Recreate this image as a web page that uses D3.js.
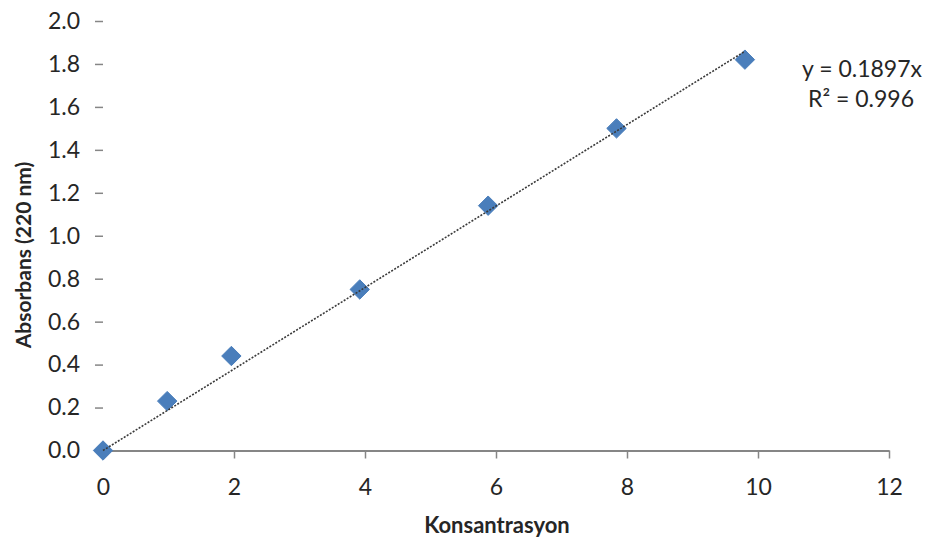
<!DOCTYPE html>
<html>
<head>
<meta charset="utf-8">
<script src="https://cdn.jsdelivr.net/npm/d3@7"></script>
<style>
  html, body { margin: 0; padding: 0; background: #ffffff; }
  svg { display: block; }
  text { font-family: Lato, "Liberation Sans", sans-serif; fill: #262626; }
</style>
</head>
<body>
<svg id="chart" width="930" height="543"></svg>
<script>
// Calibration data: concentration vs absorbance at 220 nm
const concentration = [0, 0.98, 1.96, 3.92, 5.88, 7.84, 9.8];
const absorbance    = [0, 0.23, 0.44, 0.75, 1.14, 1.50, 1.82];

// Linear fit through the origin, as reported on the chart
const slope = 0.1897;
const rSquared = 0.996;

const xTicks = [0, 2, 4, 6, 8, 10, 12];
const yTicks = [0, 0.2, 0.4, 0.6, 0.8, 1.0, 1.2, 1.4, 1.6, 1.8, 2.0];

const xTitle = "Konsantrasyon";
const yTitle = "Absorbans (220 nm)";

const svg = d3.select("#chart");

const x = d3.scaleLinear().domain([0, 12]).range([103, 889]);
const y = d3.scaleLinear().domain([0, 2]).range([450.5, 21]);

const axisColor = "#868686";
const fontSize = 23;

// Vertical axis: tick marks and labels only, no axis line
const yAxis = svg.append("g")
  .attr("transform", `translate(${x(0)},0)`)
  .call(d3.axisLeft(y).tickValues(yTicks).tickSize(8).tickPadding(15)
    .tickFormat(d3.format(".1f")));
yAxis.select(".domain").remove();
yAxis.selectAll(".tick line").attr("stroke", axisColor).attr("stroke-width", 1.5);
yAxis.selectAll(".tick text")
  .style("font-family", "Lato, 'Liberation Sans', sans-serif")
  .style("font-size", fontSize + "px")
  .attr("fill", "#262626");

// Horizontal axis
const xAxis = svg.append("g")
  .attr("transform", `translate(0,${y(0)})`)
  .call(d3.axisBottom(x).tickValues(xTicks).tickSize(8).tickPadding(20)
    .tickSizeOuter(0).tickFormat(d3.format("d")));
xAxis.select(".domain").attr("stroke", axisColor).attr("stroke-width", 2);
xAxis.selectAll(".tick line").attr("stroke", axisColor).attr("stroke-width", 1.5);
xAxis.selectAll(".tick text")
  .style("font-family", "Lato, 'Liberation Sans', sans-serif")
  .style("font-size", fontSize + "px")
  .attr("fill", "#262626");

// Data markers (diamonds)
const points = concentration.map((c, i) => ({ c, a: absorbance[i] }));
const diamond = d3.symbol().type(d3.symbolDiamond2).size(240);
svg.append("g")
  .selectAll("path")
  .data(points)
  .join("path")
  .attr("d", diamond)
  .attr("transform", d => `translate(${x(d.c)},${y(d.a)})`)
  .attr("fill", "#4A7EBB")
  .attr("stroke", "#4A7EBB")
  .attr("stroke-width", 1);

// Trendline from the origin to the last concentration
const xMax = d3.max(concentration);
svg.append("path")
  .datum([0, xMax])
  .attr("d", d3.line().x(d => x(d)).y(d => y(slope * d)))
  .attr("fill", "none")
  .attr("stroke", "#3a3a3a")
  .attr("stroke-width", 1.6)
  .attr("stroke-dasharray", "2,1.5");

// Fit equation and R²
svg.append("text")
  .attr("x", 862).attr("y", 77)
  .attr("text-anchor", "middle")
  .style("font-size", fontSize + "px")
  .text(`y = ${slope}x`);
svg.append("text")
  .attr("x", 861).attr("y", 107)
  .attr("text-anchor", "middle")
  .style("font-size", fontSize + "px")
  .text(`R² = ${rSquared}`);

// Axis titles
svg.append("text")
  .attr("x", 497).attr("y", 533)
  .attr("text-anchor", "middle")
  .style("font-size", "22px")
  .style("font-weight", "bold")
  .text(xTitle);
svg.append("text")
  .attr("transform", "translate(31,255) rotate(-90)")
  .attr("text-anchor", "middle")
  .style("font-size", "21px")
  .style("font-weight", "bold")
  .text(yTitle);
</script>
</body>
</html>
